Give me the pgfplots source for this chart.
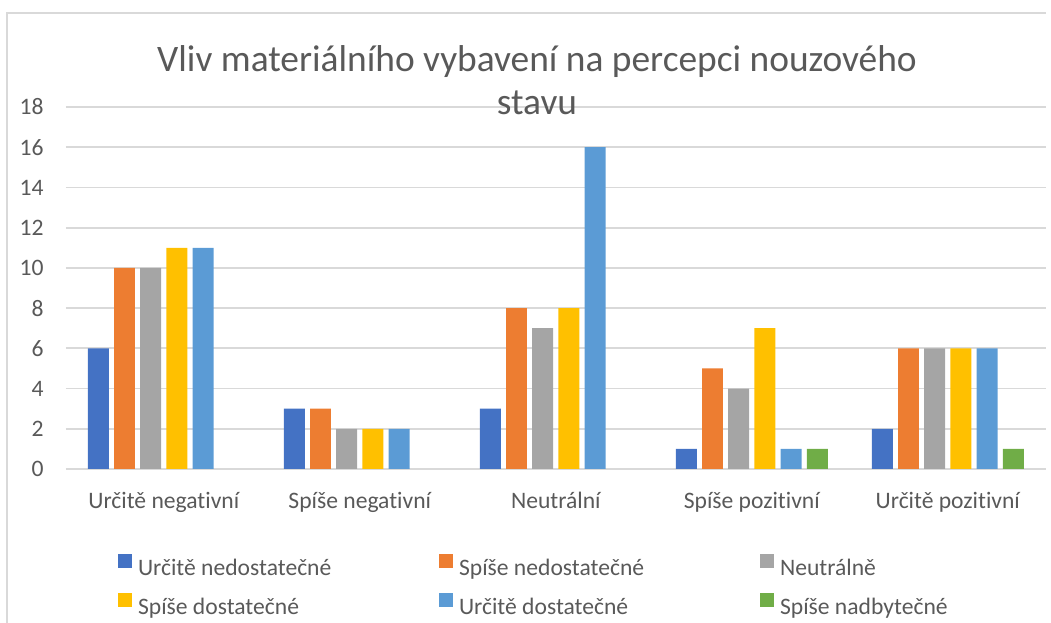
\documentclass[border=0pt]{standalone}
\usepackage{fontspec}
\setmainfont{Carlito}[Ligatures=NoCommon]
\usepackage{pgfplots}
\pgfplotsset{compat=1.18}
\definecolor{txt}{HTML}{595959}
\definecolor{grd}{HTML}{D9D9D9}
\definecolor{c1}{HTML}{4472C4}
\definecolor{c2}{HTML}{ED7D31}
\definecolor{c3}{HTML}{A5A5A5}
\definecolor{c4}{HTML}{FFC000}
\definecolor{c5}{HTML}{5B9BD5}
\definecolor{c6}{HTML}{70AD47}
\begin{document}
\begin{tikzpicture}[x=1pt,y=1pt]
\useasboundingbox (0,0) rectangle (1051,623);
\draw[grd, line width=1.5pt] (7,0) -- (7,610) -- (1046,610);
\begin{axis}[
  at={(65.8pt,154pt)}, anchor=south west,
  scale only axis, width=980pt, height=362pt,
  xmin=-0.5, xmax=4.5, ymin=0, ymax=18,
  ytick={0,2,...,18},
  xtick={0,...,4},
  xticklabels={Určitě negativní, Spíše negativní, Neutrální, Spíše pozitivní, Určitě pozitivní},
  ymajorgrids, grid style={grd, line width=1.8pt},
  axis line style={draw=none},
  major tick length=0pt,
  tick label style={text=txt, font=\fontsize{23.6}{28}\selectfont},
  yticklabel style={anchor=east, inner sep=0pt, xshift=-22pt},
  xticklabel style={anchor=base, inner sep=0pt, yshift=-39pt},
  /pgf/number format/assume math mode=true,
  ybar, bar width=0.107,
  clip=false,
  legend columns=3,
  legend cell align=left,
  legend image code/.code={\fill[#1] (0pt,1pt) rectangle (14pt,15pt);},
  legend style={at={(axis description cs:0.0533,-0.2348)}, anchor=north west,
    draw=none, fill=none, inner sep=0pt, outer sep=0pt,
    font=\fontsize{23.6}{28}\selectfont, text=txt, row sep=13pt,
    nodes={inner sep=0pt, text height=17pt, text depth=5pt},
    /tikz/every odd column/.append style={column sep=6pt}},
]
\addplot[fill=c1, draw=none, bar shift=-0.334] coordinates {(0,6) (1,3) (2,3) (3,1) (4,2)};
\addlegendentry{\makebox[301pt][l]{Určitě nedostatečné}}
\addplot[fill=c2, draw=none, bar shift=-0.2005] coordinates {(0,10) (1,3) (2,8) (3,5) (4,6)};
\addlegendentry{\makebox[301pt][l]{Spíše nedostatečné}}
\addplot[fill=c3, draw=none, bar shift=-0.0668] coordinates {(0,10) (1,2) (2,7) (3,4) (4,6)};
\addlegendentry{\makebox[301pt][l]{Neutrálně}}
\addplot[fill=c4, draw=none, bar shift=0.0668] coordinates {(0,11) (1,2) (2,8) (3,7) (4,6)};
\addlegendentry{\makebox[301pt][l]{Spíše dostatečné}}
\addplot[fill=c5, draw=none, bar shift=0.2005] coordinates {(0,11) (1,2) (2,16) (3,1) (4,6)};
\addlegendentry{\makebox[301pt][l]{Určitě dostatečné}}
\addplot[fill=c6, draw=none, bar shift=0.334] coordinates {(3,1) (4,1)};
\addlegendentry{\makebox[301pt][l]{Spíše nadbytečné}}
\end{axis}
\node[text=txt, anchor=base, inner sep=0pt, font=\fontsize{37.4}{45}\selectfont] at (537,551) {Vliv materiálního vybavení na percepci nouzového};
\node[text=txt, anchor=base, inner sep=0pt, font=\fontsize{37.4}{45}\selectfont] at (537,508) {stavu};
\end{tikzpicture}
\end{document}
